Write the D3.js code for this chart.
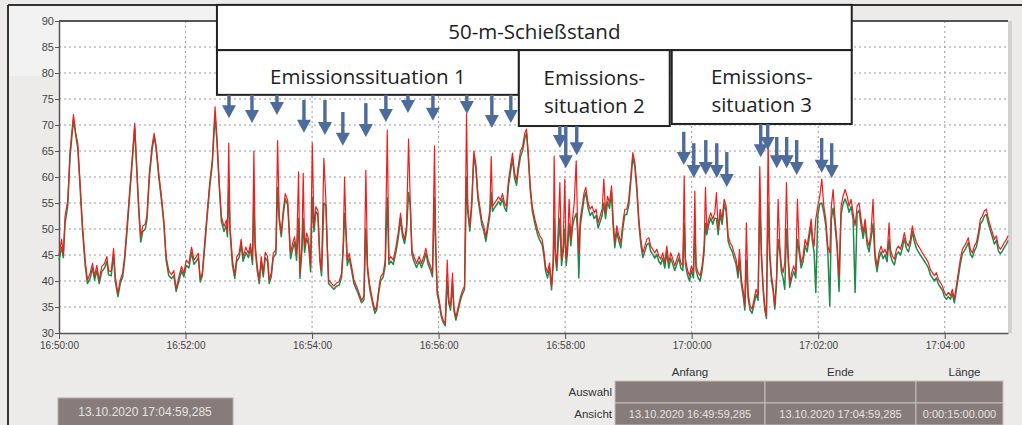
<!DOCTYPE html>
<html>
<head>
<meta charset="utf-8">
<script src="https://cdn.jsdelivr.net/npm/d3@7"></script>
<style>
  body { margin: 0; background: #ecebea; }
  svg { display: block; }
</style>
</head>
<body>
<svg width="1022" height="425"></svg>
<script>
// seconds after 16:50:00
const secs = [
  0, 2.5, 4.1, 5.7, 8.3, 10.5, 13.7, 15.9, 17.8, 20, 22.2, 24.8, 27, 29.5, 31.8, 33.7, 35.9, 38.1, 40.6, 43.2,
  45.4, 47, 49.5, 51.8, 53.3, 55.9, 58.1, 60.3, 62.2, 64.5, 67.6, 69.9, 71.8, 73.7, 75.6, 77.5, 79.4, 81.9, 83.5, 85.7,
  88.3, 90.2, 92.1, 94.6, 97.2, 99.4, 101.6, 104.1, 106.7, 108.9, 111.1, 113.7, 116.2, 118.4, 120.7, 123.2, 125.7, 128, 130.2, 132.1,
  134, 135.9, 138.4, 140.7, 142.9, 145.4, 148, 149.9, 151.8, 154, 156.5, 158.8, 159.7, 161, 162.2, 164.5, 166.7, 168.6, 170.8, 172.7,
  174.6, 177.2, 179.7, 181.6, 183.5, 184.8, 186, 188, 189.9, 191.8, 193.7, 195.6, 197.8, 199.4, 201.3, 203.2, 205.7, 207.3, 208.9, 210.8,
  212.7, 214.6, 216.9,
  219.6, 221.5, 223.4, 225.3, 227.2, 228.5, 230.4, 231.6, 232.9, 234.8, 236.7, 238.6, 240.2, 241.8, 243.6, 245.5, 247.4, 249, 251.2, 253.1,
  254.4, 255.7, 258.2, 260.7, 263.2, 265.8, 268, 269.6, 270.8, 272.1, 273.4, 275.2, 277.5, 279.7, 282.2, 284.7, 286.9, 289.2, 291, 292.6,
  294.8, 297.4, 299.6, 301.2, 303.1, 305, 307.5, 309.4, 311.3, 312.9, 314.7, 317, 319.5, 321.7, 323.9, 325.8, 327.7, 329.6, 331.5, 333.1,
  334.7, 336.6, 339.1, 341.6, 343.8, 346, 347.9, 350.1, 352.4, 354.2, 356.1, 357.4, 358.7, 360.6, 362.5, 364.4, 366.3, 368.2, 369.7, 371.3,
  373.2, 374.5, 376.4, 378.6, 380.8, 382.7, 384.6, 386.5, 387.7, 389.6, 391.5, 393.4, 395.3, 397.2, 399.1, 401, 402.9, 404.8, 406.7, 408.6,
  409.9, 411.1, 413, 414.9, 416.8, 418.7, 420.6, 422.5, 424.4, 426.3, 428.2, 430.1, 432, 433.9, 435.8, 437.7, 439.6,
  441.8, 443.4, 445, 446.9, 448.8, 451.3, 453.8, 456, 458.2, 460.1, 461.4, 463.3, 465.2, 467.1, 468.7, 469.6, 470.9, 472.1, 473.4, 475,
  476.6, 478.1, 479.7, 481, 482.2, 483.8, 485.4, 487, 488.6, 490.5, 491.7, 493, 494.3, 496.2, 498, 499.6, 501.8, 503.7, 505.6, 507.5,
  509.4, 511.3, 513.2, 515.1, 516.7, 518.3, 520.2, 522.1, 524, 525.5, 527.1, 529, 530.9, 532.8, 534.7, 536.6, 538.5, 540.4, 542.3, 544.2,
  546.1, 548, 549.9, 551.8, 553.7, 555.6, 557.5, 559.4, 561.2, 563.1, 565, 566.9, 568.8, 570.7, 572.6, 574.5, 576.4, 578.3, 580.2, 582.1,
  584, 585.9, 587.8, 589.7, 591.6, 592.9, 594.1, 596, 597.9, 599.8, 601.7, 603, 604.2, 606.1, 608, 609.9, 611.8, 613.1, 614.3, 616.2,
  618.1, 620, 621.9, 623.5, 625.1, 627, 628.9, 630.8, 632.7, 634.6, 636.5, 638.4, 640.2, 642.1, 644, 645.3, 647.2, 649.1, 650.4, 651.9,
  653.5, 655.4, 657.3, 659.2, 661.1, 663,
  664.6, 666.2, 667.8, 669.3, 670.9, 672.5, 674.1, 675.7, 677.2, 678.8, 680.4, 682, 683.6, 685.1, 686.7, 688.3, 689.9, 691.5, 693, 694.9,
  696.8, 698.7, 700.3, 701.9, 703.8, 705.7, 707.6, 709.5, 711.4, 713.3, 714.5, 716.1, 717.7, 719.6, 721.5, 723.4, 725.3, 727.2, 729.1, 731,
  732.5, 734.1, 736, 737.9, 739.8, 741.7, 743.6, 745.5, 747.4, 749.3, 751.2, 753.1, 755, 756.9, 758.8, 760.7, 762.6, 764.5, 766.4, 768.2,
  770.1, 772, 773.9, 775.8, 777.7, 779.6, 781.5, 783.4, 785.3, 787.2, 788.5, 790.4, 792.3, 794.2, 796.1, 798, 799.8, 801.7, 803.6, 805.5,
  807.4, 809.3, 811.2, 813.1, 815, 816.9, 818.8, 820.7, 822.6, 824.5, 826.4, 828.3, 830.2, 832.1, 834, 835.9, 837.8, 839.7, 841.6, 843.5,
  845.4, 847.2, 849.1, 851, 852.9, 854.8, 856.7, 858.6, 860.5, 862.4, 864.3, 866.2, 868.1, 870, 871.9, 873.8, 875.7, 877.6, 879.5, 881.4,
  883.3, 885.2, 887.1, 889, 890.9, 892.8, 894.7, 896.6, 898.5, 900
];

const red = [
  45, 48, 45, 52.4, 55.5, 65, 72, 68.4, 66.5, 58.8, 51, 44, 40.2, 41.5, 43.4, 41, 43, 40.2, 42.8, 43.4,
  44.7, 42, 41.8, 46.3, 41, 37.6, 40.2, 41.5, 44.7, 50.5, 58.8, 65, 70.3, 62, 54.3, 48.5, 50.5, 51, 52.7, 60.8,
  66, 68.4, 66, 60.8, 56.2, 51.7, 44.7, 42, 41.2, 42, 38.5, 40.8, 42.8, 41.5, 44, 43.4, 46.5, 44, 44.7, 45.3,
  40.4, 41.5, 48, 53.6, 58.8, 63.3, 73.5, 67, 59.4, 52.4, 50.5, 51.7, 49.2, 66.5, 50.5, 44, 41.2, 44.7, 45.3, 48,
  44.7, 46.5, 45.3, 47.2, 44, 65, 47.2, 42.8, 40.2, 44.7, 41.5, 45.5, 44.7, 40.2, 41.5, 45.3, 46, 67, 52.4, 49.2,
  53.6, 56.8, 55.5,
  45.3, 47.2, 48.5, 45.3, 61, 41.5, 47.2, 60.7, 46.5, 49.2, 48, 42.8, 66.5, 50.5, 54.3, 53.6, 44.7, 42, 63.6, 55.5,
  47.2, 40.2, 39.6, 39, 39.6, 39.9, 41.5, 47.2, 60, 50.5, 44, 45.3, 42.8, 40.2, 39, 37.6, 36.3, 37, 61.3, 42.8,
  39, 36.3, 34.4, 35, 38.2, 40.8, 41.5, 44, 69, 44, 44.7, 44, 46.5, 49.2, 53, 49.5, 48, 50.5, 67.3, 55.5,
  46, 44.7, 43.4, 44.7, 43.4, 44.7, 46.3, 44, 42.8, 41.5, 66, 46, 38.2, 36.3, 33.7, 32.4, 31.8, 44, 36.3, 35,
  41.5, 35, 33, 35, 37, 38.2, 39, 72.2, 54.3, 50.5, 55.5, 65, 62.6, 56.9, 54.3, 51.7, 50.5, 48.5, 51, 53.6,
  63.9, 54.3, 55, 55.5, 56.2, 55.5, 56.8, 55, 54.3, 59.4, 62, 64.6, 60.8, 59.4, 62.6, 65, 65.8,
  68.5, 69.2, 64.7, 58.3, 54.4, 51.9, 49.9, 48.7, 48, 45.4, 42.9, 41.6, 43.5, 39, 44.2, 64, 45.4, 42.9, 49.9, 58.9,
  44.2, 46.7, 59.6, 44.2, 46.7, 55.7, 48, 51.9, 55, 63.1, 51.9, 45.4, 51.9, 54.4, 57, 58, 55, 53.8, 54.4, 53.1,
  53.8, 51.2, 52.5, 53.8, 59.6, 53.1, 56.3, 55, 58.3, 51.9, 47.4, 50.6, 48.7, 47.4, 51.2, 53.8, 53.8, 55.7, 60.2, 64.7,
  62.8, 58.3, 51.9, 48, 45.4, 46.7, 48, 48.3, 46.7, 46.1, 45.4, 46.1, 44.8, 44.2, 45.4, 43.5, 46.7, 43.5, 45.4, 44.2,
  42.9, 44.2, 45.4, 43.5, 42.9, 60.2, 44.2, 42.2, 41, 42.9, 41.6, 57.3, 42.9, 41.6, 41, 42.9, 46.7, 58, 49.9, 51.9,
  53.1, 51.9, 53.1, 57, 49.9, 53.8, 51.9, 55.7, 54.4, 48.7, 47.4, 46.7, 45.4, 44.2, 41.6, 46.1, 40.3, 37.8, 35.2, 51.2,
  37.8, 35.2, 34.6, 36.5, 38.4, 37.2,
  62, 45.4, 39, 35.2, 33.3, 67.2, 45.4, 41, 39, 35.2, 40.3, 55.7, 46.7, 42.9, 41.6, 43.5, 58.9, 45.4, 39.7, 41.6,
  42.9, 41.6, 55.7, 46.7, 43.5, 44.8, 48, 46.7, 49.3, 51.9, 48.7, 46.7, 51.9, 54.4, 56.3, 59.6, 54.4, 51.9, 46.7, 45.4,
  54.4, 57.6, 51.9, 47.4, 41, 54.4, 56.3, 57.6, 56.3, 54.4, 55.7, 53.1, 50.6, 54.4, 55, 51.9, 49.3, 51.9, 48, 46.7,
  49.3, 55.7, 45.4, 42.9, 45.4, 46.7, 45.4, 46.1, 44.8, 51.2, 46.1, 44.8, 44.2, 46.1, 46.7, 46.1, 47.4, 49.3, 47.4, 46.7,
  48, 50.6, 48.7, 47.4, 46.7, 46.1, 45.4, 44.8, 44.2, 43.5, 42.2, 41.6, 41, 41.6, 40.3, 39.7, 39, 37.8, 37.2, 37.8,
  37.2, 38.4, 36.5, 39, 41.6, 44.2, 46.1, 46.7, 47.4, 48.3, 46.1, 45.4, 46.7, 47.4, 49.3, 51.9, 52.5, 53.5, 53.8, 51.9,
  50.6, 49.3, 48, 48.7, 46.7, 46.1, 46.7, 47.4, 48, 48.7
];

const green = [
  44, 46.5, 44.5, 51, 54.5, 64, 71, 68, 65.5, 58, 50, 43, 39.5, 40.5, 42.5, 40.2, 42, 39.5, 41.8, 42.5,
  43.8, 41.2, 41, 45, 40, 37, 39.5, 40.7, 43.8, 49.5, 58, 64, 69.5, 61.5, 53.5, 47.5, 49.5, 50, 52, 60,
  65.2, 67.8, 65.5, 60, 55.5, 51, 44, 41, 40.5, 41, 38, 40, 42, 40.8, 43, 42.5, 45.5, 43.2, 43.8, 44.5,
  39.8, 41, 47, 52.8, 58, 62.5, 72, 66.5, 58.8, 51.5, 49.5, 50.8, 48.5, 58, 49.5, 43, 40.5, 43.8, 44.5, 47,
  43.8, 45.5, 44.5, 46.3, 43.2, 56, 46.2, 42, 39.5, 43.8, 40.8, 44.5, 43.8, 39.5, 40.8, 44.5, 45.2, 58, 51.5, 48.5,
  52.8, 55.8, 54.6,
  44.3, 46, 47.5, 44, 52, 40.5, 46, 52, 45.5, 48.2, 47, 41.8, 56, 49.5, 53.3, 52.8, 43.8, 41, 55, 54.5,
  46.2, 39.5, 39, 38.4, 39, 39.2, 40.8, 46.2, 53, 49.5, 43, 44.4, 42, 39.5, 38.3, 37, 35.8, 36.4, 50, 42,
  38.3, 35.7, 33.8, 34.4, 37.5, 40, 40.8, 43, 56, 43.2, 43.8, 43.2, 45.5, 48.2, 52, 48.6, 47.2, 49.6, 57, 54.5,
  45.2, 43.8, 42.6, 43.8, 42.6, 43.8, 45.3, 43.2, 42, 40.8, 56, 45, 37.5, 35.7, 33.2, 32, 31.4, 40, 35.7, 34.4,
  39.5, 34.4, 32.5, 34.4, 36.4, 37.5, 38.4, 60, 53.3, 49.6, 54.6, 64, 61.8, 56, 53.4, 50.8, 49.6, 47.6, 50.1, 52.7,
  57, 53.4, 54.1, 54.6, 55.3, 54.6, 55.8, 54.1, 53.4, 58.4, 61, 63.6, 59.8, 58.4, 61.6, 64, 65,
  67.5, 68.4, 64, 57.5, 53.5, 51, 49, 47.8, 47, 44.5, 42, 40.6, 42.5, 38.3, 43, 52, 44.3, 42, 47, 52,
  43, 45.5, 50, 43, 45.5, 51, 46.8, 50.5, 52, 53, 50, 40.6, 50.5, 53.3, 56, 57, 54, 52.6, 53.2, 52,
  52.6, 50.2, 51.4, 52.6, 55, 52, 55.2, 54, 57, 50.6, 46.4, 49.5, 47.7, 46.4, 50, 52.8, 52.8, 54.7, 59.2, 63.8,
  62, 57.4, 51, 47, 44.5, 45.7, 47, 47.3, 45.7, 45.1, 44.4, 45.1, 43.8, 43.2, 44.4, 42.5, 45.5, 42.5, 44.4, 43.2,
  42, 43.2, 44.4, 42.5, 42, 51, 43.2, 41.2, 40, 42, 40.6, 50, 42, 40.6, 40, 42, 45.6, 51, 48.9, 50.9,
  52.1, 50.9, 52.1, 52, 48.9, 52.8, 50.9, 54.7, 53.4, 47.7, 46.4, 45.7, 44.4, 43.2, 40.6, 44, 39.3, 36.8, 34.4, 44,
  36.8, 34.4, 33.8, 35.6, 37.4, 36.3,
  55, 44.4, 38.2, 34.5, 32.8, 55, 44.4, 40, 38.2, 34.6, 39.3, 48, 45.6, 41.8, 40.5, 38.4, 50, 44.3, 38.8, 40.6,
  41.8, 40.6, 48, 45.6, 42.5, 43.8, 46.8, 45.6, 48.2, 50.7, 47.6, 45.6, 37.8, 52.6, 54.8, 55, 53.2, 50.7, 45.6, 35.2,
  52, 54, 50.7, 46.3, 38, 52.8, 54.8, 55.8, 54.8, 53.2, 54.3, 51.8, 37.8, 53, 53.6, 50.7, 48.2, 50.7, 47, 45.6,
  48.2, 51, 44.3, 41.8, 44.3, 45.6, 44.3, 45, 43.7, 48, 45, 43.7, 43.1, 45, 45.6, 45, 46.3, 48.2, 46.3, 45.6,
  47, 49.5, 47.6, 46.3, 45.6, 45, 44.4, 43.8, 43.2, 42.5, 41.2, 40.6, 40, 40.6, 39.4, 38.8, 38.2, 37, 36.5, 37,
  36.5, 37.6, 35.8, 38.2, 40.8, 43.3, 45.2, 45.8, 46.5, 47.4, 45.2, 44.5, 45.8, 46.5, 48.4, 50.9, 51.5, 52.5, 52.8, 51,
  49.7, 48.4, 47.1, 47.8, 45.8, 45.2, 45.8, 46.5, 47.1, 47.8
];

const yTicks = [30, 35, 40, 45, 50, 55, 60, 65, 70, 75, 80, 85, 90];

// annotation arrows: time (s), value where the shaft starts, value at the tip
const arrowSecs  = [161.2, 183, 206.7, 232.3, 252.2, 269.2, 291, 310, 330.9, 354.6, 386.8, 410.5, 428.5,
                    475, 480.6, 491,
                    592.5, 602, 613.4, 623.8, 633.3, 665.5, 672.1, 680.7, 690.1, 699.6, 723.3, 732.8];
const arrowStart = [75.8, 75.8, 75.8, 74.8, 74.8, 72.5, 74.2, 75.8, 75.8, 75.8, 75.8, 75.8, 75.8,
                    69.8, 69.8, 69.8,
                    68.7, 66.5, 67.1, 66.5, 64.8, 70.2, 70.2, 67.7, 67.7, 67.1, 67.5, 66.5];
const arrowTip   = [71.3, 70.4, 71.9, 68.5, 68.1, 66, 67.7, 70.6, 72.3, 70.8, 72.1, 69.4, 70.4,
                    65.6, 61.7, 64.2,
                    62.3, 59.8, 60.4, 59.8, 58.1, 63.8, 65.2, 61.7, 61.7, 60.4, 60.8, 59.8];

// annotation boxes (time span in s, value span)
const boxLabels = [["50-m-Schießstand"], ["Emissionssituation 1"],
                   ["Emissions-", "situation 2"], ["Emissions-", "situation 3"]];
const boxFrom   = [149.8, 149.8, 436.1, 581.1];
const boxTo     = [751.8, 436.1, 579.2, 751.8];
const boxTop    = [93.1, 84.4, 84.4, 84.4];
const boxBottom = [84.4, 75.8, 69.8, 70.2];

const colHeads   = ["Anfang", "Ende", "Länge"];
const rowHeads   = ["Auswahl", "Ansicht"];
const viewValues = ["13.10.2020 16:49:59,285", "13.10.2020 17:04:59,285", "0:00:15:00.000"];
const cursorText = "13.10.2020 17:04:59,285";

const base = new Date(2020, 9, 13, 16, 50, 0);
const toDate = (s) => new Date(+base + s * 1000);

const svg = d3.select("svg");
const margin = {top: 21, left: 59, right: 1008, bottom: 333};

// window chrome
svg.append("rect").attr("width", 1022).attr("height", 425).attr("fill", "#ecebea");
svg.append("rect").attr("x", 9).attr("y", 6).attr("width", 208).attr("height", 70).attr("fill", "#f2f2f2");
svg.append("line").attr("x1", 8).attr("x2", 1022).attr("y1", 5).attr("y2", 5)
  .attr("stroke", "#333").attr("stroke-width", 2);
svg.append("line").attr("x1", 8).attr("x2", 8).attr("y1", 5).attr("y2", 425)
  .attr("stroke", "#333").attr("stroke-width", 2);

const x = d3.scaleTime()
  .domain([base, toDate(900)])
  .range([margin.left, margin.right]);
const y = d3.scaleLinear()
  .domain([30, 90])
  .range([margin.bottom, margin.top]);

svg.append("rect")
  .attr("x", margin.left).attr("y", margin.top)
  .attr("width", margin.right - margin.left).attr("height", margin.bottom - margin.top)
  .attr("fill", "#fff");
svg.append("rect")
  .attr("x", margin.right).attr("y", margin.top)
  .attr("width", 4).attr("height", margin.bottom - margin.top)
  .attr("fill", "#d2d2d2");

// grid
const xTicks = x.ticks(d3.timeMinute.every(2));
svg.append("g")
  .selectAll("line")
  .data(yTicks.slice(1, -1))
  .join("line")
  .attr("x1", margin.left).attr("x2", margin.right)
  .attr("y1", (d) => y(d)).attr("y2", (d) => y(d))
  .attr("stroke", "#9a9a9a").attr("stroke-dasharray", "2,3");
svg.append("g")
  .selectAll("line")
  .data(xTicks.slice(1))
  .join("line")
  .attr("x1", (d) => x(d)).attr("x2", (d) => x(d))
  .attr("y1", margin.top).attr("y2", margin.bottom)
  .attr("stroke", "#9a9a9a").attr("stroke-dasharray", "2,3");

// axes
const xAxis = (g) => g
  .attr("transform", `translate(0,${margin.bottom})`)
  .call(d3.axisBottom(x).tickValues(xTicks)
    .tickFormat(d3.timeFormat("%H:%M:%S")).tickSize(6).tickSizeOuter(0))
  .call((g) => g.select(".domain").attr("stroke", "#555").attr("stroke-width", 1.5))
  .call((g) => g.selectAll(".tick line").attr("stroke", "#555"))
  .call((g) => g.selectAll(".tick text").attr("fill", "#444")
    .attr("font-family", "Liberation Sans, Arial, sans-serif").attr("font-size", 10));

const yAxis = (g) => g
  .attr("transform", `translate(${margin.left},0)`)
  .call(d3.axisLeft(y).tickValues(yTicks).tickSize(4).tickPadding(1).tickSizeOuter(0))
  .call((g) => g.select(".domain").attr("stroke", "#555").attr("stroke-width", 1.5))
  .call((g) => g.selectAll(".tick line").attr("stroke", "#555"))
  .call((g) => g.selectAll(".tick text").attr("fill", "#444")
    .attr("font-family", "Liberation Sans, Arial, sans-serif").attr("font-size", 11));

svg.append("g").call(xAxis);
svg.append("g").call(yAxis);
svg.append("line")
  .attr("x1", margin.left).attr("x2", margin.right)
  .attr("y1", margin.top).attr("y2", margin.top)
  .attr("stroke", "#555").attr("stroke-width", 2);

// series
const line = (values) => d3.line()
  .x((d, i) => x(toDate(secs[i])))
  .y((d) => y(d))(values);

svg.append("path")
  .attr("d", line(green))
  .attr("fill", "none").attr("stroke", "#1e8a4a").attr("stroke-width", 1.5)
  .attr("stroke-linejoin", "round");
svg.append("path")
  .attr("d", line(red))
  .attr("fill", "none").attr("stroke", "#f21c1c").attr("stroke-width", 1.2)
  .attr("stroke-linejoin", "round");

// annotation boxes
const boxes = svg.append("g");
boxLabels.forEach((lines, i) => {
  const x0 = x(toDate(boxFrom[i])), x1 = x(toDate(boxTo[i]));
  const y0 = y(boxTop[i]), y1 = y(boxBottom[i]);
  boxes.append("rect")
    .attr("x", x0).attr("y", y0).attr("width", x1 - x0).attr("height", y1 - y0)
    .attr("fill", "#fff").attr("stroke", "#222").attr("stroke-width", 2);
  const cy = (y0 + y1) / 2 + 4;
  lines.forEach((t, j) => {
    boxes.append("text")
      .attr("x", (x0 + x1) / 2)
      .attr("y", cy + (j - (lines.length - 1) / 2) * 28)
      .attr("dy", "0.35em")
      .attr("text-anchor", "middle")
      .attr("font-family", "Open Sans, sans-serif")
      .attr("font-size", 20.5)
      .attr("fill", "#222")
      .text(t);
  });
});

// arrows
const arrows = svg.append("g").attr("fill", "#4d6b9b");
arrowSecs.forEach((s, i) => {
  const ax = x(toDate(s));
  const top = y(arrowStart[i]);
  const tip = y(arrowTip[i]);
  const head = 13;
  if (tip - head > top) {
    arrows.append("rect")
      .attr("x", ax - 1.7).attr("y", top)
      .attr("width", 3.4).attr("height", tip - head - top + 1);
  }
  arrows.append("path")
    .attr("d", `M${ax - 7},${tip - head}L${ax + 7},${tip - head}L${ax},${tip}Z`);
});

// status panel at the bottom
const ui = svg.append("g")
  .attr("font-family", "Liberation Sans, Arial, sans-serif");
ui.append("rect").attr("x", 58).attr("y", 398).attr("width", 175).attr("height", 30)
  .attr("fill", "#877c79").attr("stroke", "#b5adab");
ui.append("text").attr("x", 145).attr("y", 416).attr("text-anchor", "middle")
  .attr("font-size", 12).attr("fill", "#e6e2e1").text(cursorText);

const colX = [615, 765, 916, 1003];
const rowY = [381, 403, 425];
colHeads.forEach((h, i) => {
  ui.append("text")
    .attr("x", (colX[i] + colX[i + 1]) / 2 + (i === 2 ? 5 : 0)).attr("y", 376)
    .attr("text-anchor", "middle").attr("font-size", 11.5).attr("fill", "#333").text(h);
});
rowHeads.forEach((h, r) => {
  ui.append("text")
    .attr("x", 612).attr("y", (rowY[r] + rowY[r + 1]) / 2 + 4)
    .attr("text-anchor", "end").attr("font-size", 11.5).attr("fill", "#333").text(h);
  for (let c = 0; c < 3; c++) {
    ui.append("rect")
      .attr("x", colX[c]).attr("y", rowY[r])
      .attr("width", colX[c + 1] - colX[c]).attr("height", rowY[r + 1] - rowY[r])
      .attr("fill", "#877c79").attr("stroke", "#c6bfbd");
    if (r === 1) {
      ui.append("text")
        .attr("x", (colX[c] + colX[c + 1]) / 2).attr("y", (rowY[r] + rowY[r + 1]) / 2 + 4)
        .attr("text-anchor", "middle").attr("font-size", 11)
        .attr("fill", "#e6e2e1").text(viewValues[c]);
    }
  }
});
</script>
</body>
</html>
